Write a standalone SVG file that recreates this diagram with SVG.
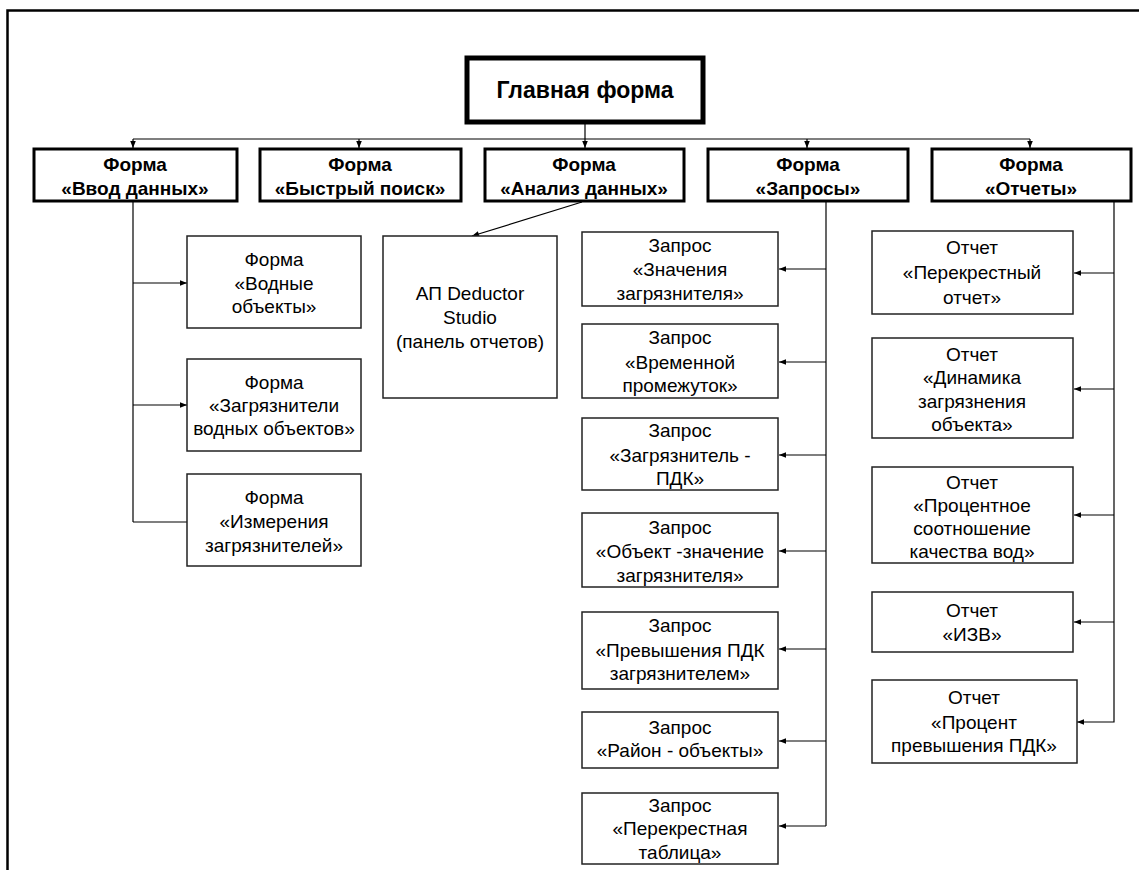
<svg xmlns="http://www.w3.org/2000/svg" width="1139" height="870" viewBox="0 0 1139 870">
<defs>
<style>
.t{font-family:"Liberation Sans",Arial,sans-serif;font-size:19px;fill:#000;text-anchor:middle}
.b{font-family:"Liberation Sans",Arial,sans-serif;font-size:19px;font-weight:bold;fill:#000;text-anchor:middle}
.h{font-family:"Liberation Sans",Arial,sans-serif;font-size:23px;font-weight:bold;fill:#000;text-anchor:middle}
.box{fill:#fff;stroke:#222;stroke-width:1.5}
.l1{fill:#fff;stroke:#000;stroke-width:3}
.main{fill:#fff;stroke:#000;stroke-width:5}
.c{fill:none;stroke:#000;stroke-width:1.2}
</style>
<marker id="ah" viewBox="0 0 10 10" refX="10" refY="5" markerWidth="8" markerHeight="7" markerUnits="userSpaceOnUse" orient="auto">
<path d="M0,1 L10,5 L0,9 Z" fill="#000"/>
</marker>
</defs>
<rect width="1139" height="870" fill="#fff"/>
<g id="frame">
<path d="M7.5,870 V10.5 H1139" fill="none" stroke="#000" stroke-width="2.5"/>
</g>
<g id="connectors">
<path class="c" d="M585,123 V139"/>
<path class="c" d="M133,139 H1030"/>
<path class="c" d="M133,139 V148" marker-end="url(#ah)"/>
<path class="c" d="M359,139 V148" marker-end="url(#ah)"/>
<path class="c" d="M585,139 V148" marker-end="url(#ah)"/>
<path class="c" d="M807,139 V148" marker-end="url(#ah)"/>
<path class="c" d="M1030,139 V148" marker-end="url(#ah)"/>
<path class="c" d="M133,202 V522"/>
<path class="c" d="M133,283 H187" marker-end="url(#ah)"/>
<path class="c" d="M133,405 H187" marker-end="url(#ah)"/>
<path class="c" d="M133,522 H202" marker-end="url(#ah)"/>
<path class="c" d="M582,202 L472,236" marker-end="url(#ah)"/>
<path class="c" d="M826,202 V826"/>
<path class="c" d="M826,269 H779" marker-end="url(#ah)"/>
<path class="c" d="M826,362 H779" marker-end="url(#ah)"/>
<path class="c" d="M826,455 H779" marker-end="url(#ah)"/>
<path class="c" d="M826,551 H779" marker-end="url(#ah)"/>
<path class="c" d="M826,649 H779" marker-end="url(#ah)"/>
<path class="c" d="M826,741 H779" marker-end="url(#ah)"/>
<path class="c" d="M826,826 H779" marker-end="url(#ah)"/>
<path class="c" d="M1114,202 V722 H1077" marker-end="url(#ah)"/>
<path class="c" d="M1114,273 H1074" marker-end="url(#ah)"/>
<path class="c" d="M1114,389 H1074" marker-end="url(#ah)"/>
<path class="c" d="M1114,515 H1074" marker-end="url(#ah)"/>
<path class="c" d="M1114,622 H1074" marker-end="url(#ah)"/>
</g>
<g id="main">
<rect class="main" x="467" y="58" width="236" height="64"/>
<text class="h" x="585" y="98">Главная форма</text>
</g>
<g id="vvod">
<rect class="l1" x="34" y="149" width="203" height="52"/>
<text class="b" x="135" y="171">Форма</text>
<text class="b" x="135" y="195">«Ввод данных»</text>
</g>
<g id="poisk">
<rect class="l1" x="260" y="149" width="201" height="52"/>
<text class="b" x="360" y="171">Форма</text>
<text class="b" x="360" y="195">«Быстрый поиск»</text>
</g>
<g id="analiz">
<rect class="l1" x="485" y="149" width="199" height="52"/>
<text class="b" x="584" y="171">Форма</text>
<text class="b" x="584" y="195">«Анализ данных»</text>
</g>
<g id="zaprosy">
<rect class="l1" x="708" y="149" width="200" height="52"/>
<text class="b" x="808" y="171">Форма</text>
<text class="b" x="808" y="195">«Запросы»</text>
</g>
<g id="otchety">
<rect class="l1" x="932" y="149" width="199" height="52"/>
<text class="b" x="1031" y="171">Форма</text>
<text class="b" x="1031" y="195">«Отчеты»</text>
</g>
<g id="vodnye">
<rect class="box" x="187" y="236" width="174" height="92"/>
<text class="t" x="274" y="266">Форма</text>
<text class="t" x="274" y="290">«Водные</text>
<text class="t" x="274" y="313">объекты»</text>
</g>
<g id="zagr-vod">
<rect class="box" x="187" y="359" width="174" height="92"/>
<text class="t" x="274" y="389">Форма</text>
<text class="t" x="274" y="412">«Загрязнители</text>
<text class="t" x="274" y="435">водных объектов»</text>
</g>
<g id="izmer">
<rect class="box" x="187" y="474" width="174" height="92"/>
<text class="t" x="274" y="504">Форма</text>
<text class="t" x="274" y="528">«Измерения</text>
<text class="t" x="274" y="552">загрязнителей»</text>
</g>
<g id="deductor">
<rect class="box" x="383" y="236" width="174" height="162"/>
<text class="t" x="470" y="300">АП Deductor</text>
<text class="t" x="470" y="324">Studio</text>
<text class="t" x="470" y="348">(панель отчетов)</text>
</g>
<g id="q1">
<rect class="box" x="582" y="232" width="196" height="74"/>
<text class="t" x="680" y="252">Запрос</text>
<text class="t" x="680" y="276">«Значения</text>
<text class="t" x="680" y="300">загрязнителя»</text>
</g>
<g id="q2">
<rect class="box" x="582" y="324" width="196" height="74"/>
<text class="t" x="680" y="344">Запрос</text>
<text class="t" x="680" y="369">«Временной</text>
<text class="t" x="680" y="392">промежуток»</text>
</g>
<g id="q3">
<rect class="box" x="582" y="418" width="196" height="72"/>
<text class="t" x="680" y="437">Запрос</text>
<text class="t" x="680" y="462">«Загрязнитель -</text>
<text class="t" x="680" y="485">ПДК»</text>
</g>
<g id="q4">
<rect class="box" x="582" y="513" width="196" height="74"/>
<text class="t" x="680" y="534">Запрос</text>
<text class="t" x="680" y="558">«Объект -значение</text>
<text class="t" x="680" y="582">загрязнителя»</text>
</g>
<g id="q5">
<rect class="box" x="582" y="612" width="196" height="77"/>
<text class="t" x="680" y="632">Запрос</text>
<text class="t" x="680" y="657">«Превышения ПДК</text>
<text class="t" x="680" y="680">загрязнителем»</text>
</g>
<g id="q6">
<rect class="box" x="582" y="712" width="196" height="56"/>
<text class="t" x="680" y="734">Запрос</text>
<text class="t" x="680" y="757">«Район - объекты»</text>
</g>
<g id="q7">
<rect class="box" x="582" y="793" width="196" height="71"/>
<text class="t" x="680" y="812">Запрос</text>
<text class="t" x="680" y="835">«Перекрестная</text>
<text class="t" x="680" y="859">таблица»</text>
</g>
<g id="r1">
<rect class="box" x="872" y="231" width="201" height="83"/>
<text class="t" x="972" y="254">Отчет</text>
<text class="t" x="972" y="279">«Перекрестный</text>
<text class="t" x="972" y="304">отчет»</text>
</g>
<g id="r2">
<rect class="box" x="872" y="338" width="201" height="100"/>
<text class="t" x="972" y="361">Отчет</text>
<text class="t" x="972" y="384">«Динамика</text>
<text class="t" x="972" y="408">загрязнения</text>
<text class="t" x="972" y="431">объекта»</text>
</g>
<g id="r3">
<rect class="box" x="872" y="467" width="201" height="96"/>
<text class="t" x="972" y="489">Отчет</text>
<text class="t" x="972" y="512">«Процентное</text>
<text class="t" x="972" y="535">соотношение</text>
<text class="t" x="972" y="558">качества вод»</text>
</g>
<g id="r4">
<rect class="box" x="872" y="592" width="201" height="60"/>
<text class="t" x="972" y="617">Отчет</text>
<text class="t" x="972" y="641">«ИЗВ»</text>
</g>
<g id="r5">
<rect class="box" x="872" y="680" width="205" height="83"/>
<text class="t" x="974" y="704">Отчет</text>
<text class="t" x="974" y="729">«Процент</text>
<text class="t" x="974" y="752">превышения ПДК»</text>
</g>
</svg>
